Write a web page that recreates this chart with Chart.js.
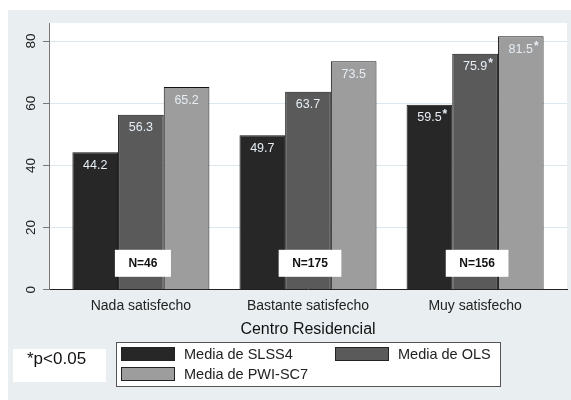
<!DOCTYPE html>
<html lang="es">
    <head>
        <meta charset="utf-8" />
        <script src="https://cdn.jsdelivr.net/npm/chart.js@4.4.0/dist/chart.umd.min.js"></script>
        <title>Centro Residencial</title>
        <style>
            html, body { margin: 0; padding: 0; background: #fff; }
            #grafico { display: block; }
        </style>
    </head>
    <body>
        <div style="width: 571px; height: 400px"><canvas id="grafico" width="571" height="400"></canvas></div>
        <script>
            // datos
            var categorias = ["Nada satisfecho", "Bastante satisfecho", "Muy satisfecho"];
            var mediaSLSS4 = [44.2, 49.7, 59.5];
            var mediaOLS = [56.3, 63.7, 75.9];
            var mediaPWI = [65.2, 73.5, 81.5];
            var tamanos = [46, 175, 156];
            var significativo = [false, false, true];
            var ticksY = [0, 20, 40, 60, 80];
            var series = ["Media de SLSS4", "Media de OLS", "Media de PWI-SC7"];
            var colores = ["#272727", "#5a5a5a", "#9d9d9d"];

            var fuente = "'Liberation Sans', Arial, sans-serif";

            function puntos(valores) {
                return valores.map((v, i) => ({ x: i, y: v }));
            }

            var fondo = {
                id: "fondo",
                beforeDraw(chart) {
                    const ctx = chart.ctx, a = chart.chartArea;
                    ctx.save();
                    ctx.fillStyle = "#ffffff";
                    ctx.fillRect(0, 0, chart.width, chart.height);
                    ctx.fillStyle = "#e9eff1";
                    ctx.fillRect(8, 10, chart.width - 8, chart.height - 10);
                    ctx.fillStyle = "#ffffff";
                    ctx.fillRect(a.left, a.top, a.right - a.left, a.bottom - a.top);
                    ctx.restore();
                },
            };

            var etiquetas = {
                id: "etiquetas",
                afterDatasetsDraw(chart) {
                    const ctx = chart.ctx;
                    ctx.save();
                    ctx.font = "12.5px " + fuente;
                    ctx.textBaseline = "middle";
                    chart.data.datasets.forEach((ds, d) => {
                        chart.getDatasetMeta(d).data.forEach((el, i) => {
                            const txt = ds.data[i].y.toFixed(1);
                            ctx.fillStyle = "#e6edf5";
                            ctx.textAlign = "center";
                            ctx.fillText(txt, el.x, el.y + 13);
                            if (significativo[i]) {
                                const w = ctx.measureText(txt).width;
                                ctx.textAlign = "left";
                                ctx.font = "bold 12px " + fuente;
                                ctx.fillText("*", el.x + w / 2 + 1, el.y + 10);
                                ctx.font = "12.5px " + fuente;
                            }
                        });
                    });
                    // cajas N=
                    const medio = chart.getDatasetMeta(1).data;
                    const yCaja = chart.chartArea.bottom - 27;
                    ctx.font = "bold 12px " + fuente;
                    tamanos.forEach((n, i) => {
                        const txt = "N=" + n;
                        const w = ctx.measureText(txt).width + 27;
                        const x = medio[i].x + 2;
                        ctx.fillStyle = "#ffffff";
                        ctx.fillRect(x - w / 2, yCaja - 13, w, 27);
                        ctx.fillStyle = "#111111";
                        ctx.textAlign = "center";
                        ctx.fillText(txt, x, yCaja + 1);
                    });
                    ctx.restore();
                },
                afterDraw(chart) {
                    const ctx = chart.ctx;
                    ctx.save();
                    // nota de significacion
                    ctx.fillStyle = "#ffffff";
                    ctx.fillRect(13, 349, 93, 33);
                    ctx.fillStyle = "#111111";
                    ctx.font = "17px " + fuente;
                    ctx.textAlign = "left";
                    ctx.textBaseline = "middle";
                    ctx.fillText("*p<0.05", 27, 359);
                    // leyenda
                    ctx.fillStyle = "#ffffff";
                    ctx.fillRect(116.5, 342.5, 384, 44);
                    ctx.strokeStyle = "#555555";
                    ctx.lineWidth = 1;
                    ctx.strokeRect(116.5, 342.5, 384, 44);
                    const pos = [[121, 347], [335, 347], [121, 367]];
                    ctx.font = "14.5px " + fuente;
                    series.forEach((s, i) => {
                        const [x, y] = pos[i];
                        ctx.fillStyle = colores[i];
                        ctx.fillRect(x, y, 54, 14);
                        ctx.strokeStyle = "#222222";
                        ctx.strokeRect(x + 0.5, y + 0.5, 53, 13);
                        ctx.fillStyle = "#222222";
                        ctx.fillText(s, x + 63, y + 8);
                    });
                    ctx.restore();
                },
            };

            new Chart(document.getElementById("grafico").getContext("2d"), {
                type: "bar",
                data: {
                    datasets: series.map((s, i) => ({
                        label: s,
                        data: puntos([mediaSLSS4, mediaOLS, mediaPWI][i]),
                        backgroundColor: colores[i],
                        borderColor: "#111111",
                        borderWidth: 1,
                        categoryPercentage: 0.82,
                        barPercentage: 1.0,
                    })),
                },
                options: {
                    responsive: false,
                    animation: false,
                    layout: { padding: { left: 0, top: 23, right: 4, bottom: 60.6 } },
                    plugins: {
                        legend: { display: false },
                        tooltip: { enabled: false },
                    },
                    scales: {
                        x: {
                            type: "linear",
                            offset: false,
                            min: -0.55,
                            max: 2.55,
                            grid: { display: false, offset: false },
                            border: { display: true, color: "#222222", width: 1 },
                            ticks: {
                                stepSize: 1,
                                padding: 0,
                                color: "#222222",
                                font: { family: fuente, size: 14 },
                                callback: (v) => categorias[v],
                            },
                            afterBuildTicks: (s) => {
                                s.ticks = s.ticks.filter((t) => Number.isInteger(t.value) && t.value >= 0 && t.value < categorias.length);
                            },
                            title: {
                                display: true,
                                text: "Centro Residencial",
                                color: "#111111",
                                font: { family: fuente, size: 16 },
                                padding: { top: 0, bottom: 0 },
                            },
                            afterFit: (s) => { s.height = 49.6; },
                        },
                        y: {
                            min: 0,
                            max: 85.8,
                            grid: { color: "#dde8ee", tickColor: "#777777", tickLength: 6 },
                            border: { display: true, color: "#777777", width: 1 },
                            ticks: {
                                stepSize: 20,
                                padding: 4,
                                minRotation: 90,
                                maxRotation: 90,
                                crossAlign: "center",
                                color: "#222222",
                                font: { family: fuente, size: 13.5 },
                            },
                            afterBuildTicks: (s) => {
                                s.ticks = ticksY.map((v) => ({ value: v }));
                            },
                            afterFit: (s) => { s.width = 49; },
                        },
                    },
                },
                plugins: [fondo, etiquetas],
            });
        </script>
    </body>
</html>
